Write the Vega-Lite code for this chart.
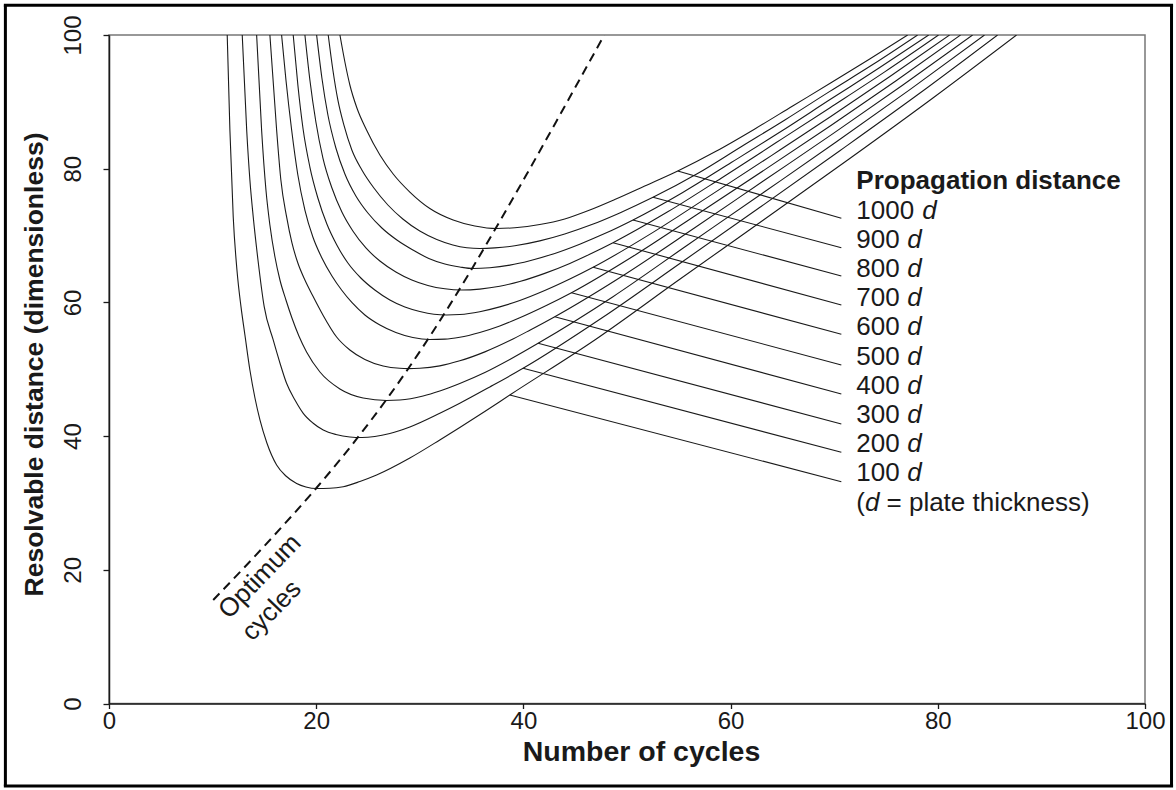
{
"$schema":"https://vega.github.io/schema/vega-lite/v6.json",
"width":1036,"height":668.5,"autosize":"none",
"padding":{"left":109,"top":35,"right":31,"bottom":86.5},
"background":"white",
"config":{"view":{"stroke":"#777777","strokeWidth":1.5},"font":"Liberation Sans",
"axis":{"labelFont":"Liberation Sans","titleFont":"Liberation Sans","labelColor":"#1a1a1a","titleColor":"#1a1a1a","domainColor":"#1a1a1a","tickColor":"#1a1a1a","domainWidth":1.5,"tickWidth":1.3,"grid":false,"labelFontSize":24,"titleFontWeight":"bold","labelFlush":false,"labelOverlap":false}},
"datasets":{
"curves":[
{"c":"100","x":11.41,"y":100},{"c":"100","x":11.67,"y":85.79},{"c":"100","x":11.99,"y":72.82},{"c":"100","x":12.35,"y":64.85},{"c":"100","x":12.74,"y":59.36},{"c":"100","x":13.12,"y":55.12},{"c":"100","x":13.6,"y":49.89},{"c":"100","x":14.09,"y":45.7},{"c":"100","x":14.57,"y":42.41},{"c":"100","x":15.24,"y":38.97},{"c":"100","x":16.18,"y":35.68},{"c":"100","x":17.08,"y":34.03},{"c":"100","x":18.11,"y":32.91},{"c":"100","x":19.01,"y":32.39},{"c":"100","x":20.04,"y":32.16},{"c":"100","x":21.32,"y":32.19},{"c":"100","x":22.61,"y":32.43},{"c":"100","x":24.22,"y":33.21},{"c":"100","x":25.83,"y":34.18},{"c":"100","x":29.04,"y":36.72},{"c":"100","x":31.93,"y":39.42},{"c":"100","x":33.86,"y":41.29},{"c":"100","x":36.27,"y":43.68},{"c":"100","x":38.69,"y":46.15},{"c":"100","x":46.89,"y":54.38},{"c":"100","x":54.99,"y":63.35},{"c":"100","x":63.1,"y":72.25},{"c":"100","x":71.3,"y":81.3},{"c":"100","x":79.4,"y":90.43},{"c":"100","x":87.6,"y":100},
{"c":"200","x":12.86,"y":100},{"c":"200","x":13.29,"y":85.79},{"c":"200","x":13.6,"y":78.31},{"c":"200","x":13.92,"y":72.82},{"c":"200","x":14.38,"y":66.34},{"c":"200","x":14.98,"y":59.36},{"c":"200","x":15.85,"y":54.38},{"c":"200","x":16.5,"y":50.94},{"c":"200","x":17.14,"y":47.9},{"c":"200","x":17.95,"y":45.4},{"c":"200","x":18.75,"y":43.41},{"c":"200","x":19.68,"y":41.96},{"c":"200","x":20.68,"y":40.91},{"c":"200","x":21.9,"y":40.24},{"c":"200","x":23.25,"y":39.87},{"c":"200","x":24.41,"y":39.79},{"c":"200","x":25.66,"y":39.94},{"c":"200","x":27.11,"y":40.39},{"c":"200","x":29.04,"y":41.36},{"c":"200","x":31.93,"y":43.41},{"c":"200","x":33.86,"y":44.91},{"c":"200","x":36.76,"y":47.35},{"c":"200","x":39.97,"y":50.14},{"c":"200","x":47.6,"y":57.7},{"c":"200","x":55.24,"y":65.97},{"c":"200","x":62.87,"y":74.27},{"c":"200","x":70.51,"y":82.65},{"c":"200","x":78.15,"y":91.17},{"c":"200","x":85.77,"y":100},
{"c":"300","x":14.25,"y":100},{"c":"300","x":14.73,"y":85.79},{"c":"300","x":15.15,"y":76.81},{"c":"300","x":15.53,"y":71.58},{"c":"300","x":16.02,"y":66.79},{"c":"300","x":16.5,"y":63.35},{"c":"300","x":17.08,"y":60.36},{"c":"300","x":17.66,"y":57.67},{"c":"300","x":18.33,"y":54.97},{"c":"300","x":19.07,"y":52.58},{"c":"300","x":20.36,"y":49.59},{"c":"300","x":22.29,"y":47.05},{"c":"300","x":24.53,"y":45.7},{"c":"300","x":26.79,"y":45.33},{"c":"300","x":28.07,"y":45.4},{"c":"300","x":30.32,"y":46.0},{"c":"300","x":31.93,"y":46.75},{"c":"300","x":33.86,"y":47.87},{"c":"300","x":36.28,"y":49.51},{"c":"300","x":38.69,"y":51.46},{"c":"300","x":41.42,"y":53.88},{"c":"300","x":48.61,"y":60.82},{"c":"300","x":55.78,"y":68.51},{"c":"300","x":62.97,"y":76.22},{"c":"300","x":70.15,"y":83.95},{"c":"300","x":77.34,"y":91.86},{"c":"300","x":84.51,"y":100},
{"c":"400","x":15.53,"y":100},{"c":"400","x":16.18,"y":85.79},{"c":"400","x":16.59,"y":78.31},{"c":"400","x":17.14,"y":72.82},{"c":"400","x":17.66,"y":68.89},{"c":"400","x":18.23,"y":65.89},{"c":"400","x":18.91,"y":63.35},{"c":"400","x":19.68,"y":60.96},{"c":"400","x":20.65,"y":58.12},{"c":"400","x":21.97,"y":54.82},{"c":"400","x":23.25,"y":52.88},{"c":"400","x":24.7,"y":51.46},{"c":"400","x":26.46,"y":50.49},{"c":"400","x":28.07,"y":50.14},{"c":"400","x":28.88,"y":50.1},{"c":"400","x":30.0,"y":50.15},{"c":"400","x":31.93,"y":50.51},{"c":"400","x":33.86,"y":51.26},{"c":"400","x":36.28,"y":52.6},{"c":"400","x":38.69,"y":54.29},{"c":"400","x":40.62,"y":55.84},{"c":"400","x":43.03,"y":57.86},{"c":"400","x":49.75,"y":64.14},{"c":"400","x":56.47,"y":71.09},{"c":"400","x":63.19,"y":78.19},{"c":"400","x":69.92,"y":85.28},{"c":"400","x":76.63,"y":92.52},{"c":"400","x":83.36,"y":100},
{"c":"500","x":16.66,"y":100},{"c":"500","x":17.08,"y":93.27},{"c":"500","x":17.63,"y":85.79},{"c":"500","x":18.23,"y":79.06},{"c":"500","x":18.91,"y":73.82},{"c":"500","x":19.68,"y":69.78},{"c":"500","x":20.55,"y":66.64},{"c":"500","x":21.52,"y":63.95},{"c":"500","x":22.45,"y":61.85},{"c":"500","x":23.44,"y":59.99},{"c":"500","x":24.7,"y":58.12},{"c":"500","x":26.15,"y":56.62},{"c":"500","x":27.69,"y":55.5},{"c":"500","x":29.33,"y":54.75},{"c":"500","x":30.97,"y":54.45},{"c":"500","x":32.42,"y":54.5},{"c":"500","x":33.86,"y":54.79},{"c":"500","x":35.79,"y":55.51},{"c":"500","x":37.72,"y":56.48},{"c":"500","x":39.65,"y":57.7},{"c":"500","x":42.06,"y":59.42},{"c":"500","x":44.64,"y":61.45},{"c":"500","x":50.9,"y":67.21},{"c":"500","x":57.16,"y":73.57},{"c":"500","x":63.42,"y":79.97},{"c":"500","x":69.68,"y":86.46},{"c":"500","x":75.94,"y":93.12},{"c":"500","x":82.2,"y":100},
{"c":"600","x":17.78,"y":100},{"c":"600","x":18.23,"y":92.52},{"c":"600","x":18.72,"y":86.09},{"c":"600","x":19.39,"y":80.25},{"c":"600","x":20.16,"y":75.62},{"c":"600","x":21.03,"y":71.73},{"c":"600","x":21.99,"y":68.59},{"c":"600","x":23.06,"y":65.89},{"c":"600","x":24.31,"y":63.65},{"c":"600","x":25.66,"y":61.85},{"c":"600","x":27.11,"y":60.36},{"c":"600","x":28.56,"y":59.31},{"c":"600","x":30.0,"y":58.64},{"c":"600","x":31.36,"y":58.23},{"c":"600","x":32.58,"y":58.12},{"c":"600","x":33.86,"y":58.19},{"c":"600","x":35.79,"y":58.61},{"c":"600","x":37.72,"y":59.33},{"c":"600","x":39.65,"y":60.28},{"c":"600","x":42.06,"y":61.77},{"c":"600","x":44.48,"y":63.49},{"c":"600","x":46.73,"y":65.25},{"c":"600","x":52.47,"y":70.44},{"c":"600","x":58.2,"y":76.16},{"c":"600","x":63.94,"y":81.96},{"c":"600","x":69.67,"y":87.81},{"c":"600","x":75.41,"y":93.84},{"c":"600","x":81.14,"y":100},
{"c":"700","x":18.91,"y":100},{"c":"700","x":19.39,"y":93.27},{"c":"700","x":19.97,"y":86.99},{"c":"700","x":20.65,"y":81.6},{"c":"700","x":21.52,"y":77.11},{"c":"700","x":22.48,"y":73.52},{"c":"700","x":23.54,"y":70.68},{"c":"700","x":24.8,"y":68.14},{"c":"700","x":26.15,"y":66.19},{"c":"700","x":27.69,"y":64.55},{"c":"700","x":29.23,"y":63.35},{"c":"700","x":30.78,"y":62.53},{"c":"700","x":32.42,"y":62.03},{"c":"700","x":34.03,"y":61.85},{"c":"700","x":35.79,"y":61.99},{"c":"700","x":37.72,"y":62.41},{"c":"700","x":39.65,"y":63.13},{"c":"700","x":42.06,"y":64.34},{"c":"700","x":44.48,"y":65.83},{"c":"700","x":46.4,"y":67.2},{"c":"700","x":48.65,"y":68.93},{"c":"700","x":53.89,"y":73.51},{"c":"700","x":59.13,"y":78.62},{"c":"700","x":64.37,"y":83.87},{"c":"700","x":69.6,"y":89.13},{"c":"700","x":74.84,"y":94.45},{"c":"700","x":80.07,"y":100},
{"c":"800","x":20.04,"y":100},{"c":"800","x":20.55,"y":93.57},{"c":"800","x":21.13,"y":88.03},{"c":"800","x":21.9,"y":83.1},{"c":"800","x":22.77,"y":79.21},{"c":"800","x":23.83,"y":75.92},{"c":"800","x":24.99,"y":73.37},{"c":"800","x":26.34,"y":71.13},{"c":"800","x":27.79,"y":69.33},{"c":"800","x":29.33,"y":67.84},{"c":"800","x":30.87,"y":66.57},{"c":"800","x":32.42,"y":65.74},{"c":"800","x":33.86,"y":65.3},{"c":"800","x":35.12,"y":65.07},{"c":"800","x":36.76,"y":65.19},{"c":"800","x":38.69,"y":65.58},{"c":"800","x":40.62,"y":66.24},{"c":"800","x":43.03,"y":67.33},{"c":"800","x":45.44,"y":68.71},{"c":"800","x":47.85,"y":70.29},{"c":"800","x":50.58,"y":72.33},{"c":"800","x":55.34,"y":76.41},{"c":"800","x":60.1,"y":80.96},{"c":"800","x":64.85,"y":85.56},{"c":"800","x":69.6,"y":90.34},{"c":"800","x":74.36,"y":95.09},{"c":"800","x":79.12,"y":100},
{"c":"900","x":21.16,"y":100},{"c":"900","x":21.61,"y":94.76},{"c":"900","x":22.09,"y":90.28},{"c":"900","x":22.67,"y":86.54},{"c":"900","x":23.44,"y":82.8},{"c":"900","x":24.41,"y":79.81},{"c":"900","x":25.57,"y":77.11},{"c":"900","x":26.92,"y":74.57},{"c":"900","x":28.36,"y":72.48},{"c":"900","x":30.0,"y":70.68},{"c":"900","x":31.64,"y":69.41},{"c":"900","x":33.19,"y":68.59},{"c":"900","x":34.54,"y":68.18},{"c":"900","x":35.79,"y":68.06},{"c":"900","x":37.24,"y":68.15},{"c":"900","x":39.17,"y":68.47},{"c":"900","x":41.58,"y":69.2},{"c":"900","x":43.99,"y":70.23},{"c":"900","x":46.41,"y":71.53},{"c":"900","x":49.3,"y":73.39},{"c":"900","x":52.51,"y":75.72},{"c":"900","x":56.77,"y":79.24},{"c":"900","x":61.02,"y":83.29},{"c":"900","x":65.28,"y":87.33},{"c":"900","x":69.54,"y":91.53},{"c":"900","x":73.8,"y":95.65},{"c":"900","x":78.05,"y":100},
{"c":"1000","x":22.29,"y":100},{"c":"1000","x":22.77,"y":95.96},{"c":"1000","x":23.25,"y":92.52},{"c":"1000","x":23.93,"y":89.08},{"c":"1000","x":24.86,"y":85.79},{"c":"1000","x":26.15,"y":82.05},{"c":"1000","x":27.43,"y":79.21},{"c":"1000","x":29.04,"y":76.51},{"c":"1000","x":30.97,"y":74.05},{"c":"1000","x":33.22,"y":72.33},{"c":"1000","x":35.31,"y":71.43},{"c":"1000","x":37.43,"y":71.05},{"c":"1000","x":39.17,"y":71.17},{"c":"1000","x":41.58,"y":71.65},{"c":"1000","x":43.99,"y":72.49},{"c":"1000","x":46.41,"y":73.82},{"c":"1000","x":48.82,"y":75.39},{"c":"1000","x":51.71,"y":77.41},{"c":"1000","x":54.9,"y":79.66},{"c":"1000","x":58.59,"y":82.6},{"c":"1000","x":62.3,"y":85.91},{"c":"1000","x":65.99,"y":89.38},{"c":"1000","x":69.69,"y":92.85},{"c":"1000","x":73.39,"y":96.38},{"c":"1000","x":77.09,"y":100}
],
"leaders":[
{"c":"100","x":38.69,"y":46.15},{"c":"100","x":70.69,"y":33.18},
{"c":"200","x":39.97,"y":50.14},{"c":"200","x":70.69,"y":37.58},
{"c":"300","x":41.42,"y":53.88},{"c":"300","x":70.69,"y":41.81},
{"c":"400","x":43.03,"y":57.86},{"c":"400","x":70.69,"y":46.3},
{"c":"500","x":44.64,"y":61.45},{"c":"500","x":70.69,"y":50.64},
{"c":"600","x":46.73,"y":65.25},{"c":"600","x":70.69,"y":55.23},
{"c":"700","x":48.65,"y":68.93},{"c":"700","x":70.69,"y":59.61},
{"c":"800","x":50.58,"y":72.33},{"c":"800","x":70.69,"y":63.95},
{"c":"900","x":52.51,"y":75.72},{"c":"900","x":70.69,"y":68.18},
{"c":"1000","x":54.9,"y":79.66},{"c":"1000","x":70.69,"y":72.58}
],
"optimum":[
{"x":10.06,"y":15.48},{"x":15.85,"y":25.0},{"x":20.04,"y":32.27},{"x":23.9,"y":39.57},{"x":26.79,"y":45.49},{"x":29.04,"y":50.44},{"x":30.97,"y":54.93},{"x":32.9,"y":59.63},{"x":35.15,"y":65.34},{"x":37.72,"y":72.13},{"x":40.3,"y":79.12},{"x":43.19,"y":87.11},{"x":45.28,"y":92.93},{"x":47.81,"y":100}
],
"optimumText":[{"t":"Optimum","x":14.57,"y":19.0},{"t":"cycles","x":15.7,"y":13.9}],
"legendTitle":[{"t":"Propagation distance","x":72.14,"y":76.96}],
"legendText":[
{"t":"1000","x":72.14,"y":72.47},{"t":"900","x":72.14,"y":68.13},{"t":"800","x":72.14,"y":63.79},{"t":"700","x":72.14,"y":59.46},{"t":"600","x":72.14,"y":55.12},{"t":"500","x":72.14,"y":50.71},{"t":"400","x":72.14,"y":46.37},{"t":"300","x":72.14,"y":41.96},{"t":"200","x":72.14,"y":37.62},{"t":"100","x":72.14,"y":33.21},
{"t":"(","x":72.14,"y":28.8},{"t":"= plate thickness)","x":75.05,"y":28.8}
],
"legendItalic":[
{"t":"d","x":78.5,"y":72.47},{"t":"d","x":77.05,"y":68.13},{"t":"d","x":77.05,"y":63.79},{"t":"d","x":77.05,"y":59.46},{"t":"d","x":77.05,"y":55.12},{"t":"d","x":77.05,"y":50.71},{"t":"d","x":77.05,"y":46.37},{"t":"d","x":77.05,"y":41.96},{"t":"d","x":77.05,"y":37.62},{"t":"d","x":77.05,"y":33.21},{"t":"d","x":72.98,"y":28.8}
]
},
"layer":[
{"data":{"name":"curves"},
 "mark":{"type":"line","interpolate":"monotone","stroke":"#1a1a1a","strokeWidth":1.1,"clip":true},
 "encoding":{
  "x":{"field":"x","type":"quantitative","scale":{"domain":[0,100],"nice":false,"zero":false},
   "axis":{"values":[0,20,40,60,80,100],"tickSize":5,"labelPadding":20,"labelBaseline":"alphabetic","title":"Number of cycles","titleFontSize":28.5,"titleX":532,"titleY":56.5,"titleAlign":"center","titleBaseline":"alphabetic"}},
  "y":{"field":"y","type":"quantitative","scale":{"domain":[0,100],"nice":false,"zero":false},
   "axis":{"values":[0,20,40,60,80,100],"tickSize":6,"labelAngle":-90,"labelAlign":"center","labelBaseline":"alphabetic","labelPadding":23,"title":"Resolvable distance (dimensionless)","titleFontSize":26.5,"titleAngle":-90,"titleX":-67,"titleY":329,"titleAlign":"center","titleBaseline":"alphabetic"}},
  "detail":{"field":"c","type":"nominal"}}},
{"data":{"name":"leaders"},
 "mark":{"type":"line","stroke":"#1a1a1a","strokeWidth":1.1},
 "encoding":{"x":{"field":"x","type":"quantitative","title":"Number of cycles"},"y":{"field":"y","type":"quantitative","title":"Resolvable distance (dimensionless)"},"detail":{"field":"c","type":"nominal"}}},
{"data":{"name":"optimum"},
 "mark":{"type":"line","interpolate":"monotone","stroke":"#111111","strokeWidth":2,"strokeDash":[9,6],"clip":true},
 "encoding":{"x":{"field":"x","type":"quantitative","title":"Number of cycles"},"y":{"field":"y","type":"quantitative","title":"Resolvable distance (dimensionless)"}}},
{"data":{"name":"optimumText"},
 "mark":{"type":"text","fontSize":26,"angle":-46,"align":"center","baseline":"middle","color":"#1a1a1a","font":"Liberation Sans"},
 "encoding":{"x":{"field":"x","type":"quantitative","title":"Number of cycles"},"y":{"field":"y","type":"quantitative","title":"Resolvable distance (dimensionless)"},"text":{"field":"t"}}},
{"data":{"name":"legendTitle"},
 "mark":{"type":"text","fontSize":26,"fontWeight":"bold","align":"left","baseline":"alphabetic","color":"#1a1a1a","font":"Liberation Sans"},
 "encoding":{"x":{"field":"x","type":"quantitative","title":"Number of cycles"},"y":{"field":"y","type":"quantitative","title":"Resolvable distance (dimensionless)"},"text":{"field":"t"}}},
{"data":{"name":"legendText"},
 "mark":{"type":"text","fontSize":26,"align":"left","baseline":"alphabetic","color":"#1a1a1a","font":"Liberation Sans"},
 "encoding":{"x":{"field":"x","type":"quantitative","title":"Number of cycles"},"y":{"field":"y","type":"quantitative","title":"Resolvable distance (dimensionless)"},"text":{"field":"t"}}},
{"data":{"name":"legendItalic"},
 "mark":{"type":"text","fontSize":26,"fontStyle":"italic","align":"left","baseline":"alphabetic","color":"#1a1a1a","font":"Liberation Sans"},
 "encoding":{"x":{"field":"x","type":"quantitative","title":"Number of cycles"},"y":{"field":"y","type":"quantitative","title":"Resolvable distance (dimensionless)"},"text":{"field":"t"}}},
{"data":{"values":[{"k":1}]},
 "mark":{"type":"rule","stroke":"#000000","strokeWidth":3,"clip":false},
 "encoding":{"x":{"datum":-10.0,"type":"quantitative","title":"Number of cycles"},"y":{"datum":104.44,"type":"quantitative","title":"Resolvable distance (dimensionless)"},"y2":{"datum":-12.34}}},
{"data":{"values":[{"k":1}]},
 "mark":{"type":"rule","stroke":"#000000","strokeWidth":3,"clip":false},
 "encoding":{"x":{"datum":102.56,"type":"quantitative","title":"Number of cycles"},"y":{"datum":104.44,"type":"quantitative","title":"Resolvable distance (dimensionless)"},"y2":{"datum":-12.34}}},
{"data":{"values":[{"k":1}]},
 "mark":{"type":"rule","stroke":"#000000","strokeWidth":3,"clip":false},
 "encoding":{"y":{"datum":104.44,"type":"quantitative","title":"Resolvable distance (dimensionless)"},"x":{"datum":-10.15,"type":"quantitative","title":"Number of cycles"},"x2":{"datum":102.71}}},
{"data":{"values":[{"k":1}]},
 "mark":{"type":"rule","stroke":"#000000","strokeWidth":3,"clip":false},
 "encoding":{"y":{"datum":-12.34,"type":"quantitative","title":"Resolvable distance (dimensionless)"},"x":{"datum":-10.15,"type":"quantitative","title":"Number of cycles"},"x2":{"datum":102.71}}}
]
}
